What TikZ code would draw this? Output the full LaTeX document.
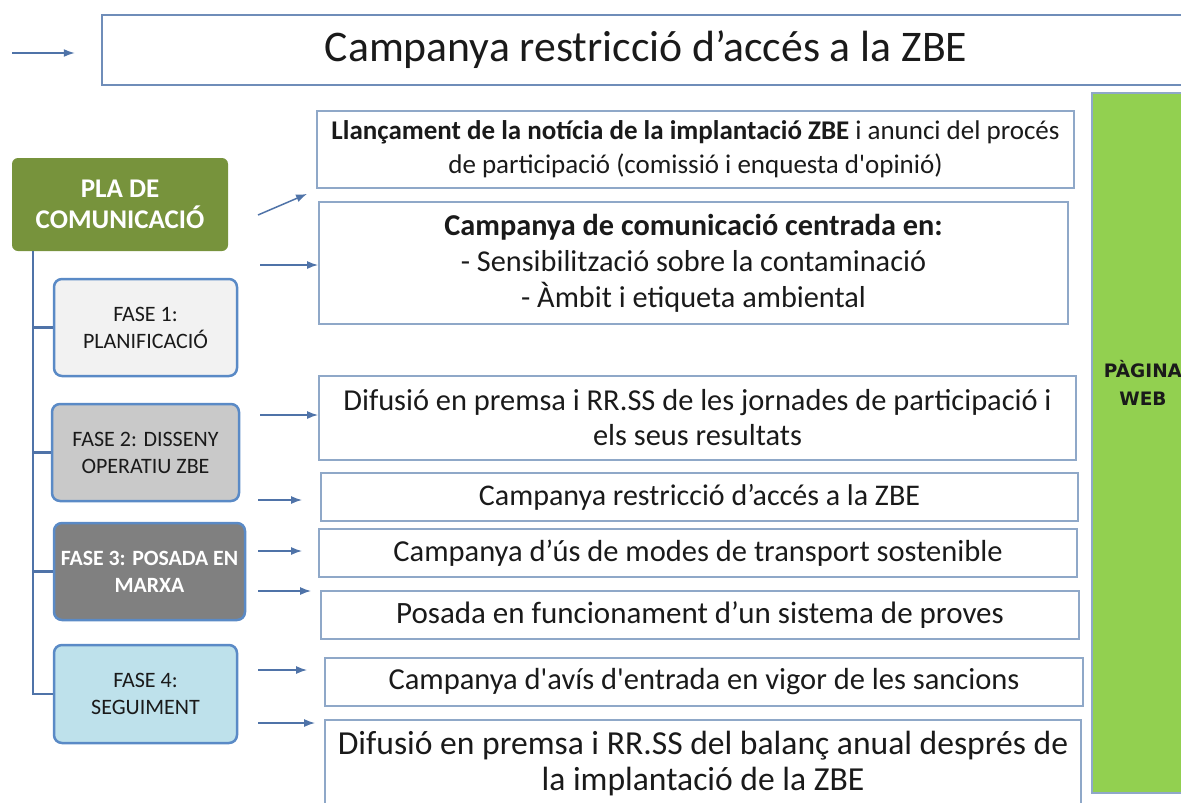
\documentclass[tikz,border=0pt]{standalone}
\usepackage{fontspec}
\setmainfont{Carlito}
\newfontfamily\webfont{DejaVu Sans}
\usetikzlibrary{arrows.meta}

\definecolor{linkblue}{HTML}{4F73A8}
\definecolor{boxedge}{HTML}{8FA8C8}
\definecolor{titleedge}{HTML}{6F8DB9}
\definecolor{phaseedge}{HTML}{5A8AC6}
\definecolor{plagreen}{HTML}{77933C}
\definecolor{webgreen}{HTML}{92D050}
\definecolor{fase1}{HTML}{F2F2F2}
\definecolor{fase2}{HTML}{C9C9C9}
\definecolor{fase3}{HTML}{808080}
\definecolor{fase4}{HTML}{BEE1EB}
\definecolor{ink}{HTML}{1A1A1A}

\tikzset{
  actbox/.style={rectangle, draw=boxedge, line width=1.8pt, align=center, inner sep=0pt, text=ink},
  phasebox/.style={rectangle, rounded corners=8pt, draw=phaseedge, line width=2.5pt, align=center, inner sep=0pt,
    text=ink, font=\fontsize{22}{27}\selectfont},
  arr/.style={-{Latex[length=11pt,width=8pt]}, draw=linkblue, line width=1.5pt},
}

\begin{document}
\begin{tikzpicture}[x=1pt, y=-1pt]
\useasboundingbox (0,0) rectangle (1181,803);
\clip (0,0) rectangle (1181,803);

% title and web column
\node (title) [rectangle, draw=titleedge, line width=2.5pt, minimum width=1088pt, minimum height=70pt, text=ink,
  font=\fontsize{43.7}{48}\selectfont] at (646,50) {Campanya restricció d’accés a la ZBE};
\coordinate (start) at (12,53);
\draw [arr] (start) -- ([xshift=-26pt]title.west |- start);

\node (web) [rectangle, draw=boxedge, line width=1.5pt, fill=webgreen, minimum width=102pt, minimum height=700pt] at (1143,443) {};
\node (webtxt) [align=center, font=\webfont\bfseries\fontsize{18.5}{28}\selectfont, text=ink] at (web.center |- 0,383) {PÀGINA\\WEB};

% left column
\node (pla) [rectangle, rounded corners=6pt, fill=plagreen, minimum width=216pt, minimum height=93pt, align=center,
  text=white, font=\bfseries\fontsize{27}{31}\selectfont] at (120,204.5) {PLA DE\\COMUNICACIÓ};
\node (f1) [phasebox, fill=fase1, minimum width=183pt, minimum height=97pt] at (145.5,327.5) {FASE 1:\\PLANIFICACIÓ};
\node (f2) [phasebox, fill=fase2, minimum width=187pt, minimum height=97pt] at (145.5,452.5) {FASE 2: DISSENY\\OPERATIU ZBE};
\node (f3) [phasebox, fill=fase3, minimum width=191pt, minimum height=97pt, text=white, font=\bfseries\fontsize{21.8}{27}\selectfont]
  at (149.5,571.5) {FASE 3: POSADA EN\\MARXA};
\node (f4) [phasebox, fill=fase4, minimum width=183pt, minimum height=98pt] at (145.5,694) {FASE 4:\\SEGUIMENT};

\coordinate (trunk) at (33,251);
\draw [draw=linkblue, line width=2.5pt] (trunk) |- (f4.west);
\foreach \f in {f1,f2,f3}
  \draw [draw=linkblue, line width=2.5pt] (trunk |- \f.west) -- (\f.west);

% actions
\node (b1) [actbox, minimum width=757pt, minimum height=77pt, font=\fontsize{27}{34}\selectfont] at (695.5,149.5)
  {\textbf{Llançament de la notícia de la implantació ZBE} i anunci del procés\\de participació (comissió i enquesta d\textquotesingle opinió)};
\node (b2) [actbox, minimum width=749pt, minimum height=122pt, font=\fontsize{30.3}{36}\selectfont] at (693.5,263)
  {\textbf{Campanya de comunicació centrada en:}\\- Sensibilització sobre la contaminació\\- Àmbit i etiqueta ambiental};
\node (b3) [actbox, minimum width=757pt, minimum height=84pt, font=\fontsize{30.4}{35}\selectfont] at (697.5,418)
  {Difusió en premsa i RR.SS de les jornades de participació i\\els seus resultats};
\node (b4) [actbox, minimum width=757pt, minimum height=48pt, font=\fontsize{30}{34}\selectfont] at (699.5,497)
  {Campanya restricció d’accés a la ZBE};
\node (b5) [actbox, minimum width=758pt, minimum height=48pt, font=\fontsize{30.5}{34}\selectfont] at (698,553)
  {Campanya d’ús de modes de transport sostenible};
\node (b6) [actbox, minimum width=758pt, minimum height=48pt, font=\fontsize{31}{34}\selectfont] at (700,615)
  {Posada en funcionament d’un sistema de proves};
\node (b7) [actbox, minimum width=758pt, minimum height=48pt, font=\fontsize{30.5}{34}\selectfont] at (704,682)
  {Campanya d\textquotesingle avís d\textquotesingle entrada en vigor de les sancions};
\node (b8) [actbox, minimum width=756pt, minimum height=88pt, font=\fontsize{33.6}{36}\selectfont] at (703,764)
  {Difusió en premsa i RR.SS del balanç anual després de\\la implantació de la ZBE};

% arrows
\coordinate (s1) at (258,215);
\coordinate (s2) at (260,265);
\coordinate (s3) at (260,415);
\coordinate (s4) at (258,500);
\coordinate (s5) at (258,551);
\coordinate (s6) at (258,591);
\coordinate (s7) at (258,670);
\coordinate (s8) at (258,723);
\draw [arr] (s1) -- ([shift={(-9pt,-5pt)}]b1.south west);
\draw [arr] (s2) -- (s2 -| b2.west);
\draw [arr] (s3) -- (s3 -| b3.west);
\draw [arr, shorten >=18pt] (s4) -- (s4 -| b4.west);
\draw [arr, shorten >=16pt] (s5) -- (s5 -| b5.west);
\draw [arr, shorten >=9pt] (s6) -- (s6 -| b6.west);
\draw [arr, shorten >=17pt] (s7) -- (s7 -| b7.west);
\draw [arr, shorten >=9pt] (s8) -- (s8 -| b8.west);
\end{tikzpicture}
\end{document}
